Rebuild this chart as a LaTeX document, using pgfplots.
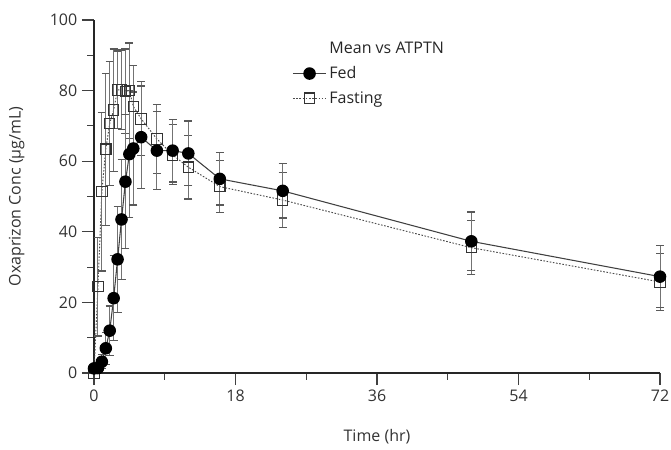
\documentclass[border=0pt]{standalone}
\usepackage{fontspec}
\setmainfont{Open Sans}
\usepackage{pgfplots}
\usepackage{pgfplotstable}
\pgfplotsset{compat=1.18}

% mean concentration and SD by nominal time
\pgfplotstableread{
t    c     sd
0    1.3   0
0.5  1.4   0.8
1    3.2   2
1.5  7.0   4.5
2    12.0  7
2.5  21.2  12
3    32.2  15
3.5  43.5  17
4    54.2  19
4.5  62.0  18
5    63.6  16
6    66.8  14.5
8    63.0  11
10   63.0  8.9
12   62.2  9.2
16   55.0  7.4
24   51.6  7.7
48   37.3  8.3
72   27.3  8.7
}\fed

\pgfplotstableread{
t    c     sd
0    0     0
0.5  24.5  14
1    51.4  22.5
1.5  63.4  21.5
2    70.7  17.5
2.5  74.5  17.3
3    80.2  11
3.5  80.2  11.3
4    79.8  12
4.5  80.0  13.5
5    75.5  11.5
6    72.0  10.5
8    66.3  9.7
10   61.8  8.5
12   58.3  9
16   52.8  7.4
24   49.0  7.8
48   35.5  7.6
72   25.8  8
}\fasting

\pgfplotsset{
  fedstyle/.style={black!75, line width=0.8pt, mark=*, mark size=4.3pt,
    mark options={solid, fill=black, draw=black}},
  faststyle/.style={black!70, line width=0.7pt, dash pattern=on 1.2pt off 1.2pt,
    mark=square, mark size=3.9pt,
    mark options={solid, fill=white, draw=black!80, line width=0.8pt}},
  ebars/.style={error bars/.cd, y dir=both, y explicit,
    error bar style={line width=0.75pt, black!55, solid},
    error mark options={rotate=90, mark size=3pt, line width=0.85pt, black!65, solid}},
}

\begin{document}
\begin{tikzpicture}
\begin{axis}[
  scale only axis,
  width=424.5pt, height=264.75pt,
  xmin=0, xmax=72, ymin=0, ymax=100,
  axis lines=left,
  axis line style={-, line width=1.1pt, black!85},
  xtick={0,18,36,54,72}, minor xtick={9,27,45,63},
  ytick={0,20,...,100}, minor ytick={10,30,50,70,90},
  tick align=outside,
  major tick length=9pt, minor tick length=5pt,
  every tick/.style={line width=0.9pt, black!75},
  tick label style={font=\fontsize{12}{14}\selectfont, text=black!80},
  /pgf/number format/assume math mode=true,
  xlabel={Time (hr)}, ylabel={Oxaprizon Conc (µg/mL)},
  every axis x label/.style={at={([yshift=-48pt]axis description cs:0.5,0)}, anchor=center,
    font=\fontsize{12}{14}\selectfont, text=black!80},
  every axis y label/.style={at={([xshift=-58pt]axis description cs:0,0.5)}, anchor=center,
    rotate=90, font=\fontsize{12}{14}\selectfont, text=black!80},
  clip=false,
  legend image code/.code={\draw[mark repeat=2,mark phase=2] plot coordinates {(0pt,0pt)(12.5pt,0pt)(25pt,0pt)};},
  legend cell align=left,
  legend style={draw=none, fill=none, at={(axis description cs:0.35,0.945)}, anchor=north west,
    inner sep=0pt, row sep=4pt, font=\fontsize{12}{14}\selectfont, text=black!85},
]
\addlegendimage{empty legend}
\addlegendentry{Mean vs ATPTN}
\addlegendimage{fedstyle}
\addlegendentry{Fed}
\addlegendimage{faststyle}
\addlegendentry{Fasting}

\addplot[faststyle, forget plot, ebars] table[x=t, y=c, y error=sd] {\fasting};
\addplot[fedstyle, forget plot, ebars] table[x=t, y=c, y error=sd] {\fed};
\end{axis}
\pgfresetboundingbox
\path[use as bounding box] ([xshift=-70.5pt, yshift=-57pt]current axis.south west)
  rectangle ([xshift=8.25pt, yshift=15pt]current axis.north east);
\end{tikzpicture}
\end{document}
